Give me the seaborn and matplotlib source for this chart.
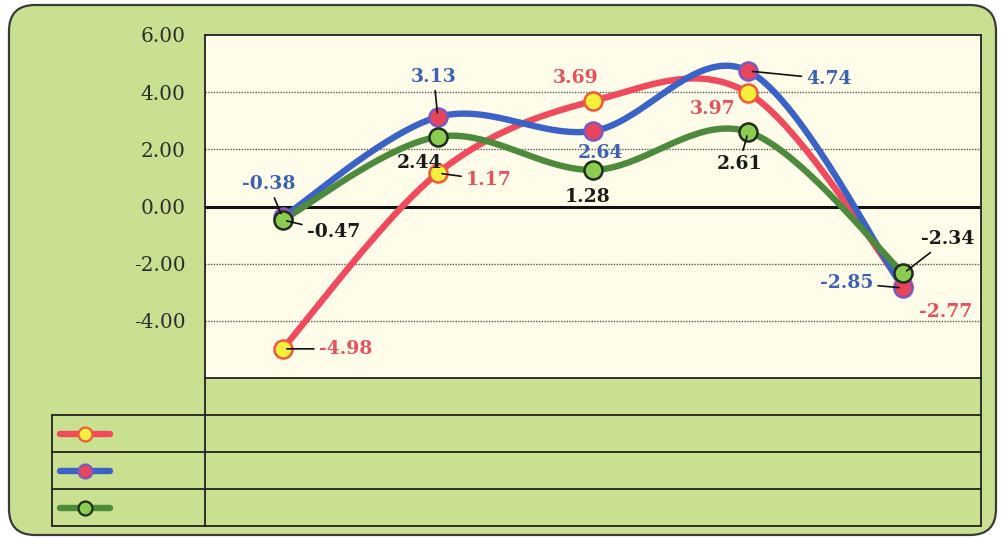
import numpy as np
import pandas as pd
import matplotlib
matplotlib.use("Agg")
import matplotlib.pyplot as plt
import seaborn as sns
from matplotlib.patches import FancyBboxPatch
from matplotlib.lines import Line2D
from matplotlib.transforms import IdentityTransform

# ---------------- data ----------------
categories = ["1", "2", "3", "4", "5"]
red_values = [-4.98, 1.17, 3.69, 3.97, -2.77]
blue_values = [-0.38, 3.13, 2.64, 4.74, -2.85]
green_values = [-0.47, 2.44, 1.28, 2.61, -2.34]
y_ticks = [6, 4, 2, 0, -2, -4, -6]
y_tick_labels = ["6.00", "4.00", "2.00", "0.00", "-2.00", "-4.00", ""]

# ---------------- style ----------------
sns.set_theme(style="white")
plt.rcParams["font.family"] = ["DejaVu Serif", "DejaVu Sans"]

W, H = 1001, 538
BG_GREEN = "#c8e090"
PLOT_BG = "#fffde9"

series = [
    dict(vals=red_values, line="#f04a5c", mfc="#f6f03c", mec="#f05a3a", lab="#e8505c"),
    dict(vals=blue_values, line="#3b62c6", mfc="#e8445c", mec="#7a5ac0", lab="#3d62b4"),
    dict(vals=green_values, line="#4d8a3c", mfc="#8ccc50", mec="#1e2e1e", lab="#1a1a1a"),
]

# label offsets in pixels (dx, dy), whether there is a leader line, alignment
label_style = [
    [(36, 0, True, "left"), (28, -7, True, "left"), (-17, 23, False, "center"),
     (-36, -16, False, "center"), (42, -26, False, "center")],
    [(-14, 33, True, "center"), (-4, 40, True, "center"), (7, -22, False, "center"),
     (58, -8, True, "left"), (-30, 5, True, "right")],
    [(24, -12, True, "left"), (-18, -26, False, "center"), (-5, -27, False, "center"),
     (-9, -32, True, "center"), (44, 34, True, "center")],
]


def smooth(xs, ys, n=40):
    P = np.column_stack([xs, ys]).astype(float)
    out = []
    for i in range(len(P) - 1):
        p0 = P[i - 1] if i > 0 else P[i]
        p1, p2 = P[i], P[i + 1]
        p3 = P[i + 2] if i + 2 < len(P) else P[i + 1]
        c1 = p1 + (p2 - p0) / 6.0
        c2 = p2 - (p3 - p1) / 6.0
        t = np.linspace(0, 1, n)[:, None]
        seg = (1 - t) ** 3 * p1 + 3 * (1 - t) ** 2 * t * c1 + 3 * (1 - t) * t ** 2 * c2 + t ** 3 * p2
        out.append(seg if i == 0 else seg[1:])
    return np.vstack(out)


fig = plt.figure(figsize=(W / 100, H / 100), dpi=100)
fig.patch.set_facecolor("white")

px = IdentityTransform()
# rounded green background
bg = FancyBboxPatch((9, 3), 987, 530, boxstyle="round,pad=0,rounding_size=26",
                    transform=px, facecolor=BG_GREEN, edgecolor="#3a3a3a", lw=1.6, zorder=-10)
fig.add_artist(bg)

ax = fig.add_axes([205 / W, 1 - 378 / H, (981 - 205) / W, (378 - 35) / H])
ax.set_zorder(1)
ax.set_facecolor(PLOT_BG)

x_pos = np.arange(len(categories))
ax.set_xlim(-0.5, len(categories) - 0.5)
ax.set_ylim(-6, 6)

for yv in [4, 2, -2, -4]:
    ax.axhline(yv, color="#555555", lw=1.0, ls=(0, (1, 1)), zorder=1)
ax.axhline(0, color="#111111", lw=2.2, zorder=1)

for s in series:
    curve = smooth(x_pos, s["vals"])
    df = pd.DataFrame({"x": curve[:, 0], "y": curve[:, 1]})
    sns.lineplot(data=df, x="x", y="y", sort=False, estimator=None, ax=ax,
                 color=s["line"], lw=4.6, zorder=3, solid_capstyle="round")
for s in series:
    ax.plot(x_pos, s["vals"], ls="none", marker="o", ms=13, mfc=s["mfc"],
            mec=s["mec"], mew=1.8, zorder=4)

for s, styles in zip(series, label_style):
    for xi, v, (dx, dy, lead, ha) in zip(x_pos, s["vals"], styles):
        ap = dict(arrowstyle="-", color="#111111", lw=1.2, shrinkA=1, shrinkB=3) if lead else None
        ax.annotate(f"{v:.2f}", xy=(xi, v), xytext=(dx, dy), textcoords="offset pixels",
                    ha=ha, va="center", fontsize=13.5, fontweight="bold", color=s["lab"],
                    arrowprops=ap, zorder=6)

ax.set_xticks([])
ax.set_yticks(y_ticks)
ax.set_yticklabels(y_tick_labels, fontsize=14.5, color="#2e2e2e")
ax.tick_params(axis="y", length=0, pad=14)
ax.set_xlabel("")
ax.set_ylabel("")
for sp in ax.spines.values():
    sp.set_visible(True)
    sp.set_color("#222222")
    sp.set_linewidth(1.3)

# ---------------- data table (legend keys only) ----------------
def yb(y):
    return H - y

lines = []
for yy in [415, 452, 489, 526]:
    lines.append(((52, 981), (yb(yy), yb(yy))))
lines.append(((52, 52), (yb(415), yb(526))))
lines.append(((205, 205), (yb(378), yb(526))))
lines.append(((981, 981), (yb(378), yb(526))))
for xs, ys in lines:
    fig.add_artist(Line2D(xs, ys, transform=px, color="#222222", lw=1.3, zorder=5))

for s, yc in zip(series, [433.5, 470.5, 507.5]):
    fig.add_artist(Line2D([60, 110], [yb(yc), yb(yc)], transform=px, color=s["line"],
                          lw=4.6, zorder=6))
    fig.add_artist(Line2D([85], [yb(yc)], transform=px, ls="none", marker="o", ms=10,
                          mfc=s["mfc"], mec=s["mec"], mew=1.6, zorder=7))

fig.savefig("out.png", dpi=100)
